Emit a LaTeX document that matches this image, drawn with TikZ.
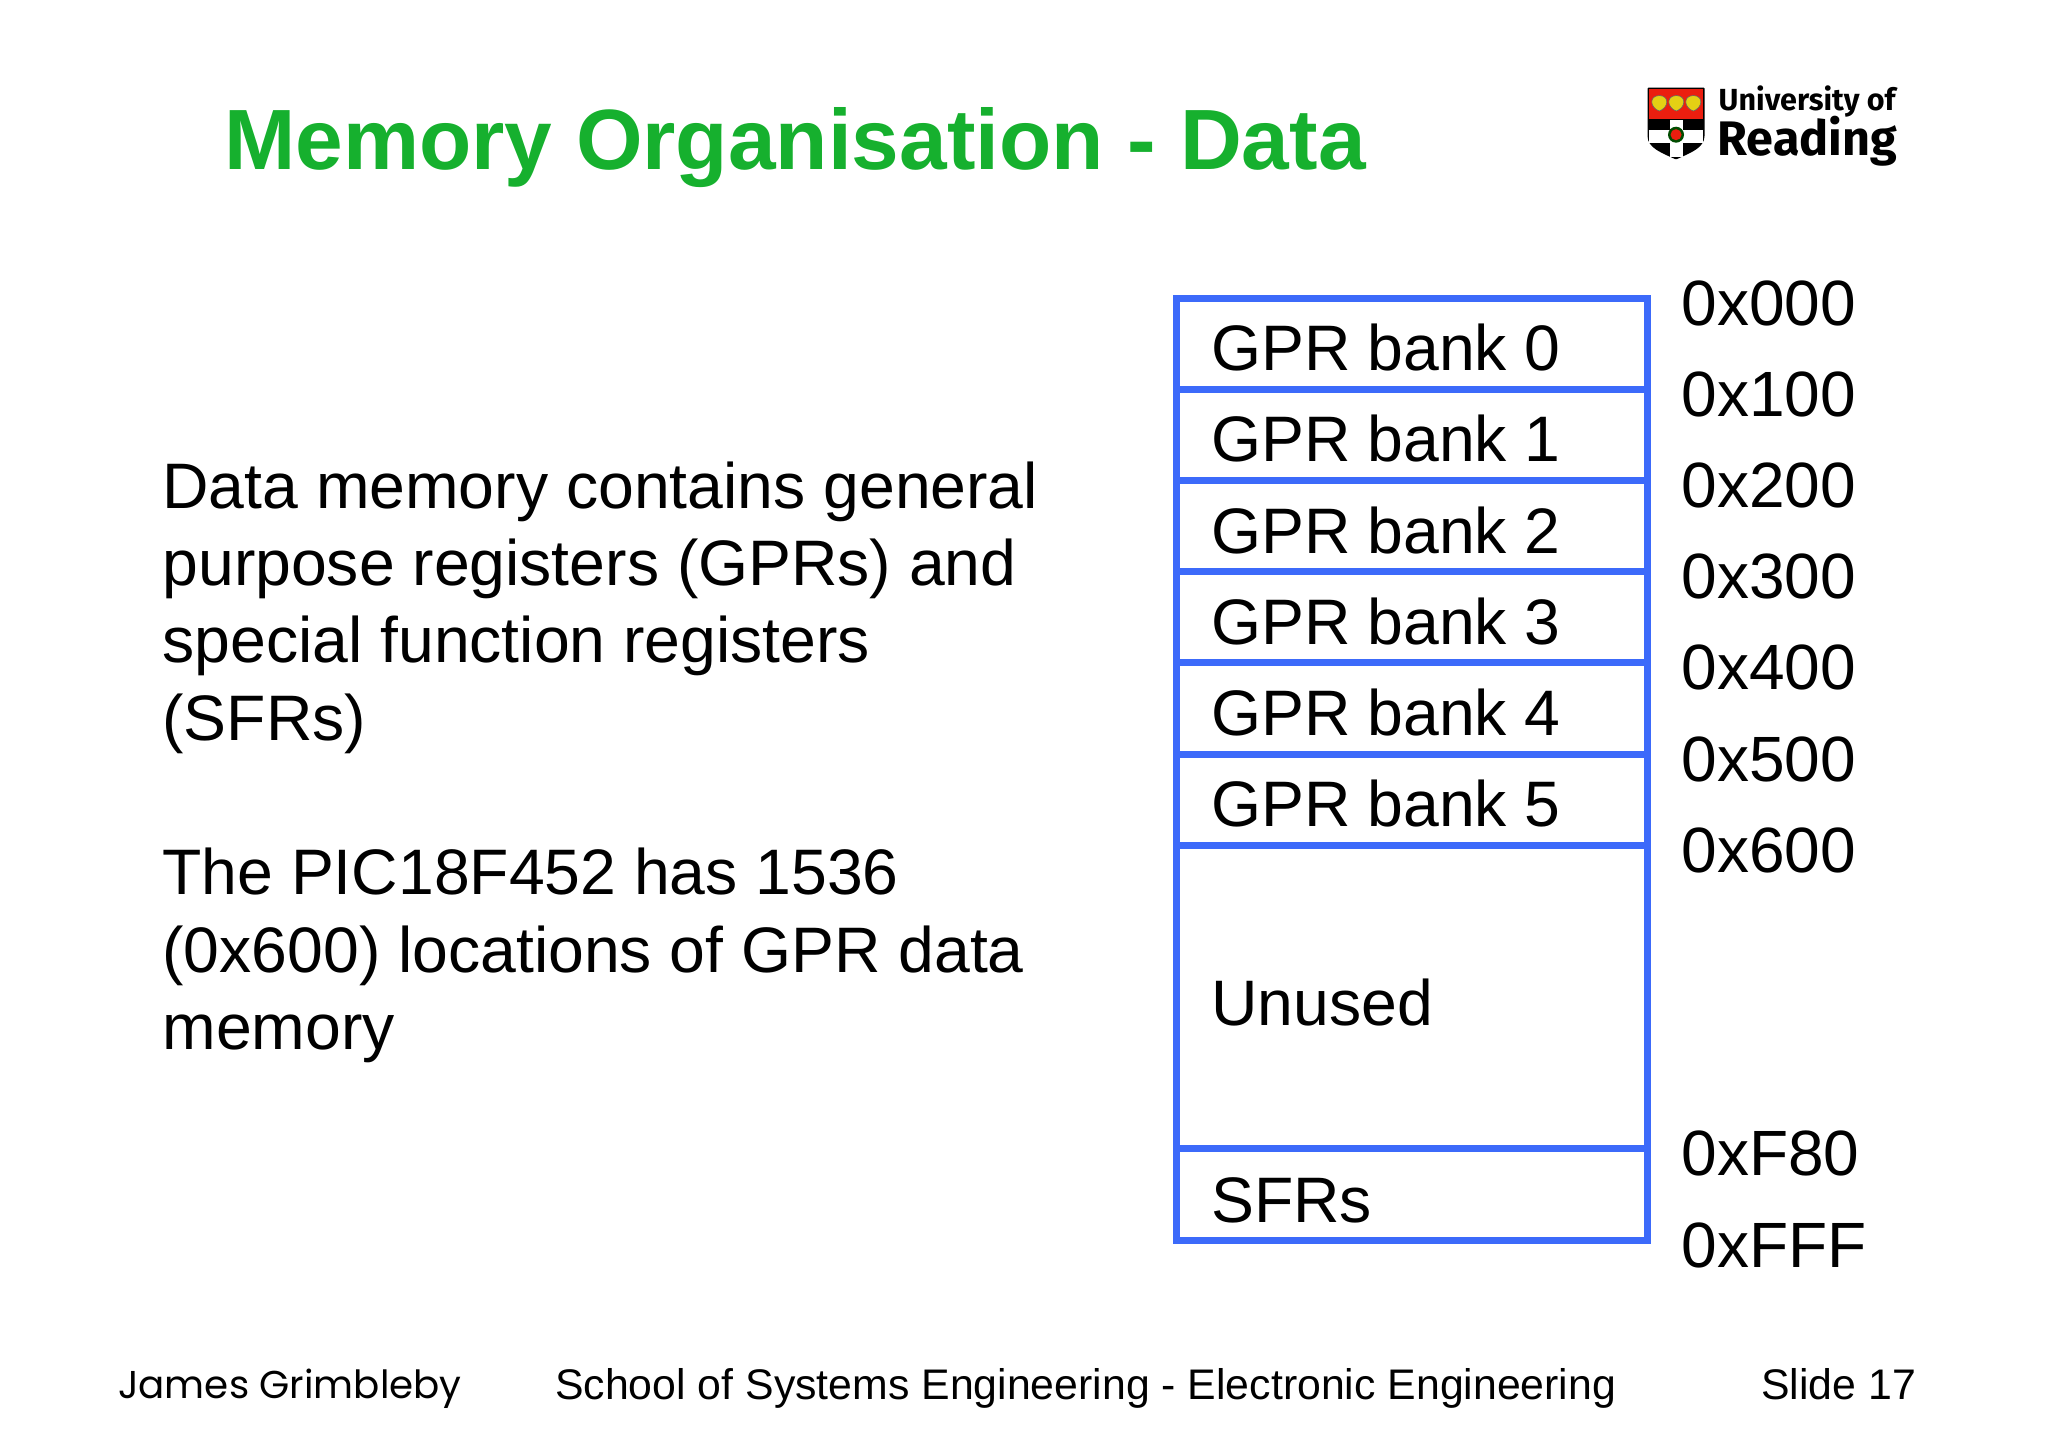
\documentclass[tikz,border=0pt]{standalone}
\usepackage{fontspec}
\setmainfont{Liberation Sans}
\newfontfamily\handfont{Poppins}
\newfontfamily\logofont{Fira Sans}
\usetikzlibrary{positioning,calc}
\definecolor{cellblue}{RGB}{60,106,250}
\definecolor{titlegreen}{RGB}{22,176,46}
\definecolor{crestred}{RGB}{235,30,15}
\definecolor{crestyellow}{RGB}{228,208,20}

\begin{document}
\begin{tikzpicture}[x=1pt, y=-1pt,
    cell/.style={rectangle, draw=cellblue, line width=7pt, outer sep=0pt, inner ysep=0pt, inner xsep=35pt,
        text width=400.7pt, align=left, text height=54pt, text depth=0pt, font=\fontsize{64.3}{64}\selectfont, minimum height=91.2pt,
        execute at begin node={\spaceskip=17pt\relax}},
    addr/.style={anchor=base west, inner sep=0pt, xshift=34.3pt, yshift=-27pt, font=\fontsize{64}{64}\selectfont},
    para/.style={anchor=north west, inner sep=0pt, align=left, font=\fontsize{64.3}{77.3}\selectfont},
    foot/.style={anchor=base west, inner sep=0pt, font=\fontsize{42.8}{42}\selectfont}]
    \useasboundingbox (0,0) rectangle (2048,1448);

    \node[anchor=base west, inner sep=0pt, text=titlegreen, font=\fontsize{85.6}{87}\selectfont\bfseries] (title) at (224,169) {Memory Organisation - Data};

    \node[para] (datatext) at (162.3,461.3) {Data memory contains general\\ purpose registers (GPRs) and\\ special function registers\\ (SFRs)};
    \node[para, below=94.6pt of datatext.south west, anchor=north west] (pictext) {The PIC18F452 has 1536\\ (0x600) locations of GPR data\\ memory};

    % memory map
    \node[cell, anchor=north west] (cell0) at (1176.3,298) {GPR bank 0};
    \foreach \i/\j in {1/0,2/1,3/2,4/3,5/4}
        \node[cell, below=0pt of cell\j] (cell\i) {GPR bank \i};
    \node[cell, below=0pt of cell5, minimum height=303.6pt, text height=56pt] (unused) {Unused};
    \node[cell, below=0pt of unused, minimum height=91.2pt, text height=56pt] (sfrs) {SFRs};

    \foreach \i/\a in {0/000,1/100,2/200,3/300,4/400,5/500}
        \node[addr] (addr\a) at (cell\i.north east) {0x\a};
    \node[addr] (addr600) at (unused.north east) {0x600};
    \node[addr] (addrF80) at (sfrs.north east) {0xF80};
    \node[addr] (addrFFF) at (sfrs.south east) {0xFFF};

    \node[foot, font=\handfont\fontsize{38.8}{40}\selectfont] (author) at (118,1398) {James Grimbleby};
    \node[foot] (school) at (555,1399) {School of Systems Engineering - Electronic Engineering};
    \node[foot] (slide) at (1761,1399) {Slide 17};

    % logo
    \fill[black, rounded corners=1pt] (1647.5,87.5) -- (1704.5,87.5) -- (1704.5,135) .. controls (1704.5,148) and (1690,153) .. (1676,159.5) .. controls (1662,153) and (1647.5,148) .. (1647.5,135) -- cycle;
    \fill[crestred] (1649,89) rectangle (1703,119);
    \fill[white] (1649,130) rectangle (1703,143);
    \fill[white] (1670,120) rectangle (1682.5,157);
    \foreach \x in {1659.3,1676.3,1693.3}
        \fill[crestyellow, draw=black!60, line width=0.6pt] (\x,95.5) .. controls (\x+11,96) and (\x+9,108) .. (\x,111) .. controls (\x-9,108) and (\x-11,96) .. (\x,95.5) -- cycle;
    \fill[black!70!green] (1676,134.7) circle (8pt);
    \fill[crestred] (1676,134.7) circle (5.5pt);
    \node[anchor=base west, inner sep=0pt, font=\logofont\bfseries\fontsize{30.5}{29}\selectfont] (uni) at (1718.5,110) {University of};
    \node[anchor=base west, inner sep=0pt, font=\logofont\bfseries\fontsize{48.5}{46}\selectfont] (reading) at (1717.5,155) {Reading};
\end{tikzpicture}
\end{document}
